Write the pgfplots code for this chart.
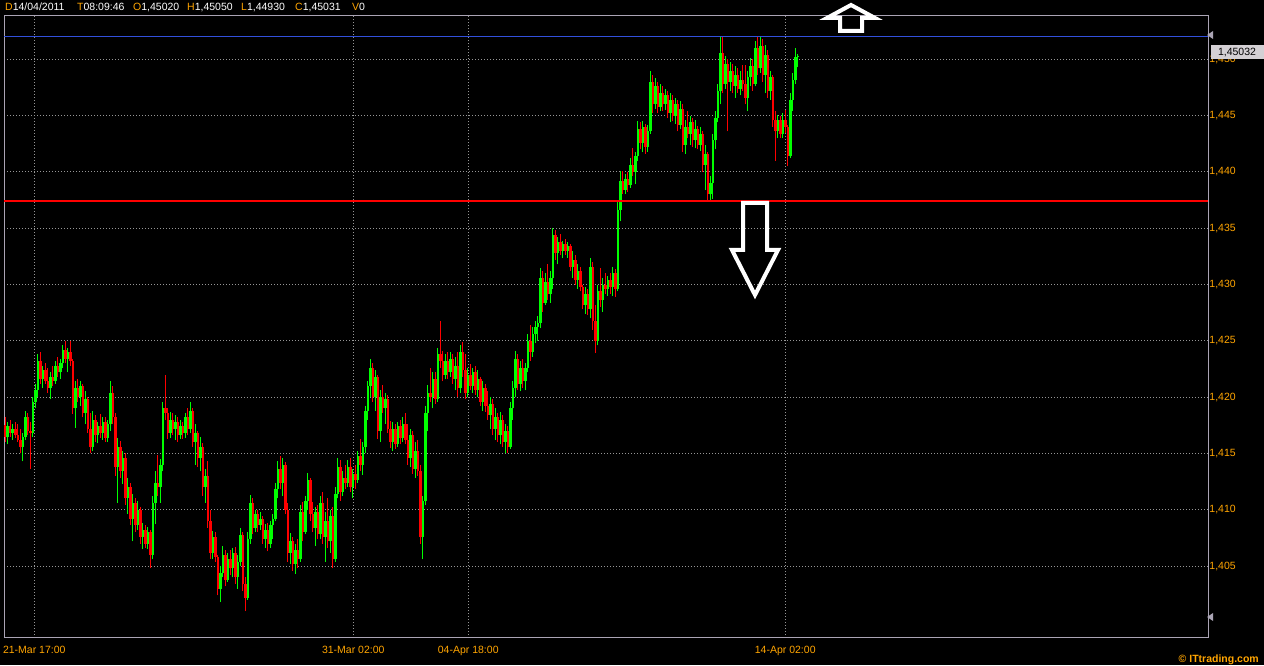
\documentclass[border=0pt]{standalone}
\usepackage{pgfplots}
\pgfplotsset{compat=1.18}
\usepackage{pgfplotstable}
\usepackage{fontspec}
\setmainfont{Liberation Sans}
\definecolor{cgreen}{RGB}{0,255,0}
\definecolor{cred}{RGB}{255,0,0}
\definecolor{corange}{RGB}{255,165,0}
\definecolor{cframe}{RGB}{170,164,180}
\definecolor{cgrid}{RGB}{150,150,150}
\definecolor{cblue}{RGB}{50,80,220}
\definecolor{cbox}{RGB}{212,208,212}

\pgfplotstableread{
i o h l c
0 1.4175 1.4182 1.4160 1.4165
1 1.4165 1.4178 1.4158 1.4174
2 1.4174 1.4180 1.4165 1.4168
3 1.4168 1.4176 1.4162 1.4172
4 1.4172 1.4178 1.4164 1.4166
5 1.4166 1.4176 1.4160 1.4162
6 1.4162 1.4172 1.4150 1.4156
7 1.4156 1.4168 1.4143 1.4165
8 1.4165 1.4188 1.4162 1.4182
9 1.4182 1.4186 1.4166 1.4170
10 1.4170 1.4178 1.4136 1.4168
11 1.4168 1.4200 1.4165 1.4196
12 1.4196 1.4212 1.4190 1.4206
13 1.4206 1.4238 1.4200 1.4232
14 1.4232 1.4240 1.4212 1.4216
15 1.4216 1.4228 1.4208 1.4224
16 1.4224 1.4230 1.4212 1.4214
17 1.4214 1.4226 1.4204 1.4208
18 1.4208 1.4222 1.4198 1.4218
19 1.4218 1.4228 1.4210 1.4214
20 1.4214 1.4232 1.4212 1.4228
21 1.4228 1.4236 1.4218 1.4222
22 1.4222 1.4234 1.4216 1.4230
23 1.4230 1.4246 1.4226 1.4242
24 1.4242 1.4250 1.4230 1.4234
25 1.4234 1.4244 1.4222 1.4240
26 1.4240 1.4250 1.4228 1.4232
27 1.4232 1.4234 1.4185 1.4190
28 1.4190 1.4214 1.4173 1.4208
29 1.4208 1.4216 1.4196 1.4200
30 1.4200 1.4214 1.4192 1.4210
31 1.4210 1.4212 1.4182 1.4186
32 1.4186 1.4205 1.4176 1.4198
33 1.4198 1.4200 1.4168 1.4172
34 1.4172 1.4186 1.4150 1.4156
35 1.4156 1.4188 1.4152 1.4180
36 1.4180 1.4184 1.4160 1.4166
37 1.4166 1.4178 1.4159 1.4174
38 1.4174 1.4185 1.4164 1.4168
39 1.4168 1.4182 1.4162 1.4178
40 1.4178 1.4182 1.4160 1.4164
41 1.4164 1.4180 1.4160 1.4176
42 1.4176 1.4214 1.4170 1.4204
43 1.4204 1.4210 1.4176 1.4182
44 1.4182 1.4186 1.4130 1.4138
45 1.4138 1.4164 1.4106 1.4156
46 1.4156 1.4161 1.4128 1.4134
47 1.4134 1.4152 1.4123 1.4146
48 1.4146 1.4150 1.4104 1.4110
49 1.4110 1.4128 1.4096 1.4120
50 1.4120 1.4124 1.4086 1.4092
51 1.4092 1.4114 1.4072 1.4106
52 1.4106 1.4110 1.4080 1.4086
53 1.4086 1.4108 1.4082 1.4100
54 1.4100 1.4102 1.4070 1.4076
55 1.4076 1.4088 1.4065 1.4082
56 1.4082 1.4086 1.4066 1.4070
57 1.4070 1.4085 1.4065 1.4080
58 1.4080 1.4082 1.4048 1.4060
59 1.4060 1.4112 1.4056 1.4106
60 1.4106 1.4134 1.4087 1.4124
61 1.4124 1.4149 1.4112 1.4120
62 1.4120 1.4145 1.4106 1.4140
63 1.4140 1.4196 1.4134 1.4190
64 1.4190 1.4220 1.4180 1.4186
65 1.4186 1.4190 1.4163 1.4168
66 1.4168 1.4187 1.4164 1.4180
67 1.4180 1.4186 1.4166 1.4172
68 1.4172 1.4184 1.4162 1.4178
69 1.4178 1.4182 1.4160 1.4166
70 1.4166 1.4180 1.4163 1.4174
71 1.4174 1.4178 1.4163 1.4168
72 1.4168 1.4186 1.4164 1.4182
73 1.4182 1.4190 1.4166 1.4172
74 1.4172 1.4196 1.4168 1.4188
75 1.4188 1.4190 1.4156 1.4160
76 1.4160 1.4176 1.4140 1.4168
77 1.4168 1.4170 1.4138 1.4146
78 1.4146 1.4165 1.4134 1.4156
79 1.4156 1.4159 1.4112 1.4120
80 1.4120 1.4136 1.4106 1.4130
81 1.4130 1.4143 1.4084 1.4090
82 1.4090 1.4100 1.4056 1.4062
83 1.4062 1.4081 1.4056 1.4076
84 1.4076 1.4080 1.4054 1.4058
85 1.4058 1.4060 1.4024 1.4030
86 1.4030 1.4050 1.4018 1.4044
87 1.4044 1.4068 1.4040 1.4060
88 1.4060 1.4064 1.4032 1.4038
89 1.4038 1.4062 1.4036 1.4056
90 1.4056 1.4064 1.4042 1.4048
91 1.4048 1.4066 1.4040 1.4062
92 1.4062 1.4067 1.4034 1.4040
93 1.4040 1.4060 1.4030 1.4054
94 1.4054 1.4084 1.4050 1.4078
95 1.4078 1.4080 1.4028 1.4034
96 1.4034 1.4040 1.4010 1.4022
97 1.4022 1.4080 1.4020 1.4074
98 1.4074 1.4113 1.4070 1.4106
99 1.4106 1.4110 1.4078 1.4084
100 1.4084 1.4100 1.4080 1.4096
101 1.4096 1.4100 1.4080 1.4086
102 1.4086 1.4098 1.4082 1.4092
103 1.4092 1.4094 1.4070 1.4074
104 1.4074 1.4087 1.4066 1.4082
105 1.4082 1.4088 1.4063 1.4070
106 1.4070 1.4090 1.4066 1.4086
107 1.4086 1.4096 1.4074 1.4092
108 1.4092 1.4124 1.4090 1.4118
109 1.4118 1.4143 1.4110 1.4136
110 1.4136 1.4148 1.4118 1.4124
111 1.4124 1.4146 1.4112 1.4140
112 1.4140 1.4142 1.4096 1.4100
113 1.4100 1.4106 1.4054 1.4062
114 1.4062 1.4079 1.4052 1.4072
115 1.4072 1.4076 1.4046 1.4052
116 1.4052 1.4070 1.4043 1.4064
117 1.4064 1.4074 1.4048 1.4056
118 1.4056 1.4104 1.4054 1.4098
119 1.4098 1.4107 1.4072 1.4080
120 1.4080 1.4112 1.4078 1.4108
121 1.4108 1.4133 1.4100 1.4126
122 1.4126 1.4128 1.4090 1.4096
123 1.4096 1.4107 1.4080 1.4084
124 1.4084 1.4102 1.4068 1.4098
125 1.4098 1.4104 1.4074 1.4078
126 1.4078 1.4112 1.4074 1.4106
127 1.4106 1.4116 1.4070 1.4076
128 1.4076 1.4098 1.4054 1.4090
129 1.4090 1.4110 1.4066 1.4072
130 1.4072 1.4100 1.4062 1.4094
131 1.4094 1.4102 1.4048 1.4056
132 1.4056 1.4120 1.4054 1.4114
133 1.4114 1.4146 1.4110 1.4138
134 1.4138 1.4144 1.4108 1.4116
135 1.4116 1.4134 1.4112 1.4128
136 1.4128 1.4140 1.4118 1.4124
137 1.4124 1.4144 1.4120 1.4138
138 1.4138 1.4146 1.4116 1.4120
139 1.4120 1.4136 1.4110 1.4132
140 1.4132 1.4140 1.4118 1.4126
141 1.4126 1.4152 1.4124 1.4148
142 1.4148 1.4163 1.4134 1.4140
143 1.4140 1.4160 1.4131 1.4156
144 1.4156 1.4192 1.4150 1.4188
145 1.4188 1.4214 1.4180 1.4210
146 1.4210 1.4234 1.4200 1.4226
147 1.4226 1.4230 1.4196 1.4200
148 1.4200 1.4224 1.4188 1.4218
149 1.4218 1.4220 1.4163 1.4170
150 1.4170 1.4206 1.4160 1.4200
151 1.4200 1.4211 1.4186 1.4190
152 1.4190 1.4204 1.4176 1.4198
153 1.4198 1.4202 1.4168 1.4172
154 1.4172 1.4179 1.4155 1.4160
155 1.4160 1.4178 1.4152 1.4172
156 1.4172 1.4176 1.4154 1.4158
157 1.4158 1.4178 1.4156 1.4174
158 1.4174 1.4180 1.4158 1.4164
159 1.4164 1.4182 1.4160 1.4176
160 1.4176 1.4186 1.4158 1.4162
161 1.4162 1.4176 1.4140 1.4146
162 1.4146 1.4172 1.4138 1.4166
163 1.4166 1.4170 1.4132 1.4136
164 1.4136 1.4160 1.4128 1.4152
165 1.4152 1.4162 1.4130 1.4134
166 1.4134 1.4140 1.4070 1.4076
167 1.4076 1.4112 1.4056 1.4108
168 1.4108 1.4192 1.4104 1.4186
169 1.4186 1.4211 1.4170 1.4204
170 1.4204 1.4226 1.4196 1.4200
171 1.4200 1.4222 1.4190 1.4216
172 1.4216 1.4222 1.4194 1.4198
173 1.4198 1.4244 1.4196 1.4238
174 1.4238 1.4268 1.4226 1.4232
175 1.4232 1.4241 1.4214 1.4220
176 1.4220 1.4238 1.4216 1.4232
177 1.4232 1.4240 1.4216 1.4222
178 1.4222 1.4240 1.4218 1.4234
179 1.4234 1.4238 1.4212 1.4216
180 1.4216 1.4236 1.4206 1.4228
181 1.4228 1.4240 1.4200 1.4208
182 1.4208 1.4246 1.4204 1.4240
183 1.4240 1.4249 1.4218 1.4224
184 1.4224 1.4238 1.4198 1.4204
185 1.4204 1.4226 1.4200 1.4220
186 1.4220 1.4229 1.4206 1.4210
187 1.4210 1.4226 1.4204 1.4222
188 1.4222 1.4228 1.4202 1.4206
189 1.4206 1.4224 1.4200 1.4216
190 1.4216 1.4218 1.4192 1.4196
191 1.4196 1.4214 1.4188 1.4208
192 1.4208 1.4212 1.4187 1.4192
193 1.4192 1.4205 1.4180 1.4184
194 1.4184 1.4200 1.4172 1.4194
195 1.4194 1.4198 1.4166 1.4172
196 1.4172 1.4190 1.4162 1.4182
197 1.4182 1.4186 1.4160 1.4166
198 1.4166 1.4187 1.4158 1.4180
199 1.4180 1.4184 1.4156 1.4160
200 1.4160 1.4176 1.4150 1.4170
201 1.4170 1.4174 1.4150 1.4156
202 1.4156 1.4196 1.4154 1.4190
203 1.4190 1.4214 1.4180 1.4208
204 1.4208 1.4241 1.4200 1.4234
205 1.4234 1.4238 1.4206 1.4212
206 1.4212 1.4232 1.4205 1.4226
207 1.4226 1.4234 1.4208 1.4214
208 1.4214 1.4230 1.4206 1.4226
209 1.4226 1.4256 1.4222 1.4250
210 1.4250 1.4264 1.4232 1.4240
211 1.4240 1.4262 1.4236 1.4256
212 1.4256 1.4268 1.4248 1.4262
213 1.4262 1.4272 1.4250 1.4266
214 1.4266 1.4315 1.4261 1.4306
215 1.4306 1.4312 1.4276 1.4284
216 1.4284 1.4310 1.4282 1.4302
217 1.4302 1.4318 1.4286 1.4292
218 1.4292 1.4312 1.4284 1.4306
219 1.4306 1.4350 1.4296 1.4344
220 1.4344 1.4348 1.4322 1.4328
221 1.4328 1.4342 1.4318 1.4338
222 1.4338 1.4345 1.4326 1.4330
223 1.4330 1.4339 1.4324 1.4336
224 1.4336 1.4340 1.4326 1.4330
225 1.4330 1.4338 1.4324 1.4334
226 1.4334 1.4336 1.4312 1.4316
227 1.4316 1.4330 1.4306 1.4322
228 1.4322 1.4326 1.4300 1.4304
229 1.4304 1.4318 1.4296 1.4312
230 1.4312 1.4316 1.4294 1.4298
231 1.4298 1.4300 1.4278 1.4282
232 1.4282 1.4298 1.4274 1.4292
233 1.4292 1.4296 1.4273 1.4278
234 1.4278 1.4324 1.4270 1.4316
235 1.4316 1.4320 1.4260 1.4268
236 1.4268 1.4282 1.4239 1.4250
237 1.4250 1.4300 1.4246 1.4294
238 1.4294 1.4315 1.4280 1.4286
239 1.4286 1.4306 1.4276 1.4300
240 1.4300 1.4310 1.4292 1.4296
241 1.4296 1.4308 1.4290 1.4304
242 1.4304 1.4310 1.4292 1.4298
243 1.4298 1.4316 1.4290 1.4310
244 1.4310 1.4314 1.4289 1.4296
245 1.4296 1.4374 1.4294 1.4366
246 1.4366 1.4401 1.4356 1.4392
247 1.4392 1.4401 1.4380 1.4384
248 1.4384 1.4398 1.4380 1.4394
249 1.4394 1.4400 1.4382 1.4388
250 1.4388 1.4412 1.4386 1.4406
251 1.4406 1.4421 1.4396 1.4400
252 1.4400 1.4418 1.4389 1.4414
253 1.4414 1.4445 1.4410 1.4438
254 1.4438 1.4444 1.4420 1.4426
255 1.4426 1.4445 1.4418 1.4440
256 1.4440 1.4443 1.4416 1.4422
257 1.4422 1.4442 1.4418 1.4436
258 1.4436 1.4490 1.4434 1.4480
259 1.4480 1.4486 1.4452 1.4460
260 1.4460 1.4483 1.4456 1.4476
261 1.4476 1.4480 1.4452 1.4458
262 1.4458 1.4478 1.4454 1.4470
263 1.4470 1.4476 1.4454 1.4460
264 1.4460 1.4474 1.4455 1.4468
265 1.4468 1.4472 1.4448 1.4452
266 1.4452 1.4470 1.4444 1.4464
267 1.4464 1.4468 1.4445 1.4450
268 1.4450 1.4466 1.4443 1.4460
269 1.4460 1.4464 1.4436 1.4442
270 1.4442 1.4463 1.4438 1.4456
271 1.4456 1.4460 1.4418 1.4424
272 1.4424 1.4446 1.4416 1.4440
273 1.4440 1.4454 1.4430 1.4434
274 1.4434 1.4450 1.4424 1.4444
275 1.4444 1.4448 1.4422 1.4428
276 1.4428 1.4446 1.4421 1.4438
277 1.4438 1.4441 1.4420 1.4424
278 1.4424 1.4440 1.4419 1.4434
279 1.4434 1.4436 1.4400 1.4406
280 1.4406 1.4424 1.4384 1.4416
281 1.4416 1.4418 1.4374 1.4380
282 1.4380 1.4396 1.4374 1.4390
283 1.4390 1.4434 1.4376 1.4428
284 1.4428 1.4454 1.4420 1.4448
285 1.4448 1.4478 1.4444 1.4472
286 1.4472 1.4520 1.4460 1.4506
287 1.4506 1.4520 1.4470 1.4478
288 1.4478 1.4503 1.4474 1.4496
289 1.4496 1.4500 1.4436 1.4480
290 1.4480 1.4498 1.4472 1.4490
291 1.4490 1.4496 1.4470 1.4476
292 1.4476 1.4494 1.4466 1.4486
293 1.4486 1.4492 1.4470 1.4474
294 1.4474 1.4490 1.4468 1.4482
295 1.4482 1.4495 1.4472 1.4478
296 1.4478 1.4495 1.4460 1.4466
297 1.4466 1.4490 1.4454 1.4484
298 1.4484 1.4501 1.4476 1.4494
299 1.4494 1.4500 1.4472 1.4478
300 1.4478 1.4516 1.4476 1.4510
301 1.4510 1.4520 1.4486 1.4492
302 1.4492 1.4520 1.4488 1.4512
303 1.4512 1.4518 1.4480 1.4486
304 1.4486 1.4513 1.4470 1.4504
305 1.4504 1.4508 1.4466 1.4472
306 1.4472 1.4490 1.4464 1.4484
307 1.4484 1.4486 1.4440 1.4446
308 1.4446 1.4454 1.4410 1.4436
309 1.4436 1.4451 1.4430 1.4446
310 1.4446 1.4450 1.4430 1.4434
311 1.4434 1.4452 1.4430 1.4446
312 1.4446 1.4455 1.4435 1.4440
313 1.4440 1.4442 1.4405 1.4414
314 1.4414 1.4470 1.4412 1.4464
315 1.4464 1.4488 1.4454 1.4482
316 1.4482 1.4510 1.4478 1.4502
317 1.4502 1.4505 1.4493 1.45031
}\candles

\begin{document}
\begin{tikzpicture}[x=1pt,y=1pt]
\useasboundingbox (0,0) rectangle (1264,665);
\fill[black] (0,0) rectangle (1264,665);
\begin{axis}[
  at={(17,24)}, anchor=south west, scale only axis,
  width=1204pt, height=622pt,
  xmin=-0.4, xmax=481.2, ymin=1.39861, ymax=1.45385,
  axis line style={draw=cframe, line width=1pt},
  xtick={11.6,139.2,185.2,312},
  xticklabels={21-Mar 17:00,31-Mar 02:00,04-Apr 18:00,14-Apr 02:00},
  ytick={1.405,1.41,1.415,1.42,1.425,1.43,1.435,1.44,1.445,1.45},
  yticklabels={{1,405},{1,410},{1,415},{1,420},{1,425},{1,430},{1,435},{1,440},{1,445},{1,450}},
  yticklabel pos=right,
  major tick length=0pt,
  tick style={draw=none},
  grid=major,
  major grid style={draw=cgrid, line width=1pt, dash pattern=on 1pt off 2pt},
  tick label style={font=\fontsize{10.5}{12}\selectfont, text=corange},
  yticklabel style={anchor=west, inner sep=0pt, xshift=1pt},
  xticklabel style={anchor=north, inner sep=0pt, yshift=-8pt},
]
% wicks
\addplot[draw=none, forget plot, restrict expr to domain={\thisrow{c}-\thisrow{o}}{0:1},
  error bars/.cd, y dir=plus, y explicit, error mark=none,
  error bar style={draw=cgreen, line width=1.2pt, solid}]
  table[x=i, y=l, y error plus expr={\thisrow{h}-\thisrow{l}}] {\candles};
\addplot[draw=none, forget plot, restrict expr to domain={\thisrow{c}-\thisrow{o}}{-1:-0.0000001},
  error bars/.cd, y dir=plus, y explicit, error mark=none,
  error bar style={draw=cred, line width=1.2pt, solid}]
  table[x=i, y=l, y error plus expr={\thisrow{h}-\thisrow{l}}] {\candles};
% bodies
\addplot[draw=none, forget plot, restrict expr to domain={\thisrow{c}-\thisrow{o}}{0:1},
  error bars/.cd, y dir=plus, y explicit, error mark=none,
  error bar style={draw=cgreen, line width=2.5pt, solid}]
  table[x=i, y=o, y error plus expr={\thisrow{c}-\thisrow{o}}] {\candles};
\addplot[draw=none, forget plot, restrict expr to domain={\thisrow{c}-\thisrow{o}}{-1:-0.0000001},
  error bars/.cd, y dir=plus, y explicit, error mark=none,
  error bar style={draw=cred, line width=2.5pt, solid}]
  table[x=i, y=c, y error plus expr={\thisrow{o}-\thisrow{c}}] {\candles};
% level lines
\addplot[cred, line width=1.5pt, forget plot] coordinates {(-0.4,1.43742) (481.2,1.43742)};
\addplot[cblue, line width=1pt, forget plot] coordinates {(-0.4,1.45207) (481.2,1.45207)};
\end{axis}
% right markers and price box
\fill[cframe] (1207,630) -- (1213,634) -- (1213,626) -- cycle;
\fill[cframe] (1207,48) -- (1213,52) -- (1213,44) -- cycle;
\fill[cbox] (1211,606) rectangle (1264,620);
\node[font=\fontsize{10.5}{12}\selectfont, text=black, inner sep=0pt] at (1237,612.5) {1,45032};
% header
\begin{scope}[every node/.style={anchor=base west, inner sep=0pt, font=\fontsize{10.5}{12}\selectfont, text=white}]
\node at (5,654) {\textcolor{corange}{D}14/04/2011};
\node at (77,654) {\textcolor{corange}{T}08:09:46};
\node at (133,654) {\textcolor{corange}{O}1,45020};
\node at (187,654) {\textcolor{corange}{H}1,45050};
\node at (241,654) {\textcolor{corange}{L}1,44930};
\node at (295,654) {\textcolor{corange}{C}1,45031};
\node at (352,654) {\textcolor{corange}{V}0};
\end{scope}
% logo
\node[anchor=base east, inner sep=0pt, font=\bfseries\fontsize{10.5}{12}\selectfont, text=corange] at (1259,3) {© ITtrading.com};
% arrows
\draw[white, line width=4pt, miter limit=10] (851,660) -- (875,647) -- (862,647) -- (862,634) -- (840,634) -- (840,647) -- (827,647) -- cycle;
\draw[white, line width=4pt, miter limit=10] (743,462) -- (767,462) -- (767,415) -- (778,415) -- (755,370) -- (732,415) -- (743,415) -- cycle;
\end{tikzpicture}
\end{document}
